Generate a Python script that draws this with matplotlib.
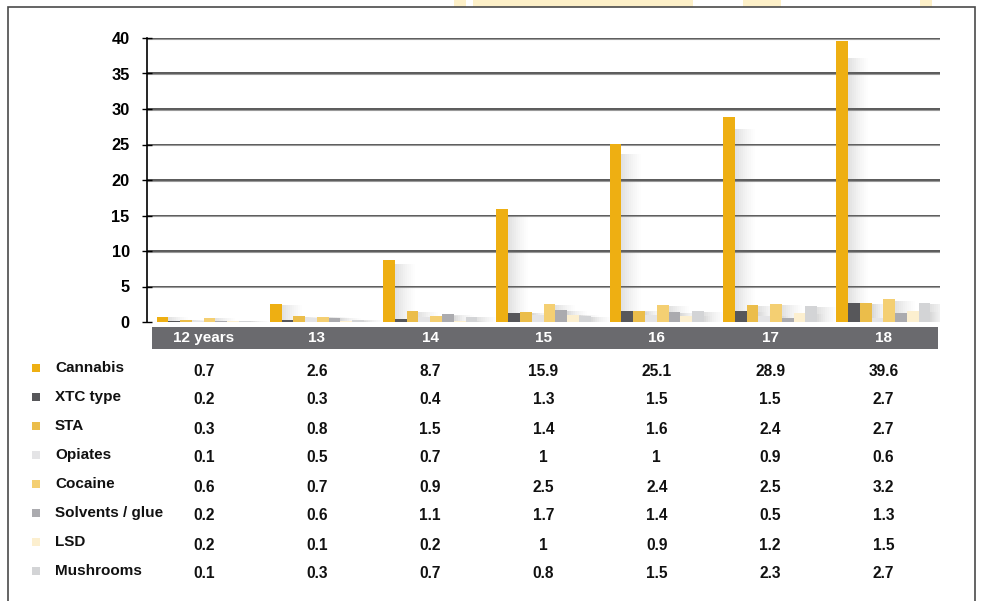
import matplotlib
matplotlib.use('Agg')

import matplotlib.pyplot as plt
from matplotlib.patches import Rectangle
from matplotlib.transforms import blended_transform_factory
import numpy as np

plt.rcParams['font.family'] = ['Liberation Sans', 'DejaVu Sans']

# ─── Data ────────────────────────────────────────────────────────────────────
ages = ["12 years", "13", "14", "15", "16", "17", "18"]
drugs = ["Cannabis", "XTC type", "STA", "Opiates", "Cocaine",
         "Solvents / glue", "LSD", "Mushrooms"]

cannabis = [0.7, 2.6, 8.7, 15.9, 25.1, 28.9, 39.6]
xtc = [0.2, 0.3, 0.4, 1.3, 1.5, 1.5, 2.7]
sta = [0.3, 0.8, 1.5, 1.4, 1.6, 2.4, 2.7]
opiates = [0.1, 0.5, 0.7, 1, 1, 0.9, 0.6]
cocaine = [0.6, 0.7, 0.9, 2.5, 2.4, 2.5, 3.2]
solvents = [0.2, 0.6, 1.1, 1.7, 1.4, 0.5, 1.3]
lsd = [0.2, 0.1, 0.2, 1, 0.9, 1.2, 1.5]
mushrooms = [0.1, 0.3, 0.7, 0.8, 1.5, 2.3, 2.7]

series = [cannabis, xtc, sta, opiates, cocaine, solvents, lsd, mushrooms]
colors = ["#EEAF12", "#57575A", "#EBBD4A", "#E4E4E6",
          "#F4CF72", "#ABABAF", "#FCEFCF", "#D3D4D6"]
value_labels = [[("%g" % v) for v in s] for s in series]

# ─── Figure ──────────────────────────────────────────────────────────────────
W, H = 988, 601
fig = plt.figure(figsize=(W / 100, H / 100), dpi=100)
fig.patch.set_facecolor("white")


def fx(px):
    return px / W


def fy(py):
    return 1 - py / H


# faint logo remnants at top edge
for x0, x1 in [(454, 466), (473, 693), (743, 781), (920, 932)]:
    fig.patches.append(Rectangle((fx(x0), fy(7)), fx(x1 - x0), 7 / H,
                                 transform=fig.transFigure,
                                 facecolor="#FDF0C8", edgecolor="none"))

# outer frame
fig.patches.append(Rectangle((fx(8), -0.01), fx(975 - 8), fy(7) + 0.01,
                             transform=fig.transFigure, facecolor="none",
                             edgecolor="#4A4A4A", linewidth=1.2))

ax = fig.add_axes([fx(147), fy(322), fx(940 - 147), (322 - 38) / H])
ax.set_xlim(-0.5, len(ages) - 0.5)
ax.set_ylim(0, 40)

x = np.arange(len(ages))
n = len(series)
bw = 0.104

for yv in range(5, 45, 5):
    ax.axhline(yv, color="#2B2B2B", linewidth=1.1, zorder=1)
    ax.axhline(yv - 0.12, color="#9A9A9A", linewidth=0.8, zorder=1)

for i, (vals, col) in enumerate(zip(series, colors)):
    xs = x + (i - (n - 1) / 2) * bw
    # soft shadow to the right of each bar
    steps = 10
    for k in range(steps):
        ax.bar(xs + bw / 2 + (k + 0.5) * bw * 0.17, np.array(vals) * 0.94,
               width=bw * 0.17, color="#6E6E6E",
               alpha=0.2 * (1 - k / steps) ** 1.3, linewidth=0, zorder=2)
    ax.bar(xs, vals, width=bw, color=col, linewidth=0, zorder=3)

for s in ["top", "right", "bottom"]:
    ax.spines[s].set_visible(False)
ax.spines["left"].set_color("black")
ax.spines["left"].set_linewidth(1.2)
ax.set_xticks([])
ax.set_yticks(range(0, 45, 5))
ax.tick_params(axis="y", length=7, width=1, pad=9, direction="inout")
for lbl in ax.get_yticklabels():
    lbl.set_fontsize(11.8)
    lbl.set_fontweight("bold")

# category band
fig.patches.append(Rectangle((fx(152), fy(349)), fx(938 - 152), (349 - 327) / H,
                             transform=fig.transFigure,
                             facecolor="#6A6A6E", edgecolor="none"))

tr = blended_transform_factory(ax.transData, fig.transFigure)
for xi, lab in zip(x, ages):
    fig.text(xi, fy(338), lab, transform=tr, ha="center", va="center",
             color="white", fontsize=11, fontweight="bold")

# data table
row_y = [368, 397, 426, 455, 484, 513, 542, 571]
for r, (name, col, labs) in enumerate(zip(drugs, colors, value_labels)):
    yy = row_y[r]
    fig.patches.append(Rectangle((fx(32), fy(yy + 4)), 8 / W, 8 / H,
                                 transform=fig.transFigure,
                                 facecolor=col, edgecolor="none"))
    fig.text(fx(55), fy(yy), name, ha="left", va="center",
             fontsize=11, fontweight="bold", color="#111111")
    for xi, t in zip(x, labs):
        fig.text(xi, fy(yy + 3), t, transform=tr, ha="center", va="center",
                 fontsize=11.2, fontweight="bold", color="#111111")

fig.savefig("out.png", dpi=100, facecolor="white")
